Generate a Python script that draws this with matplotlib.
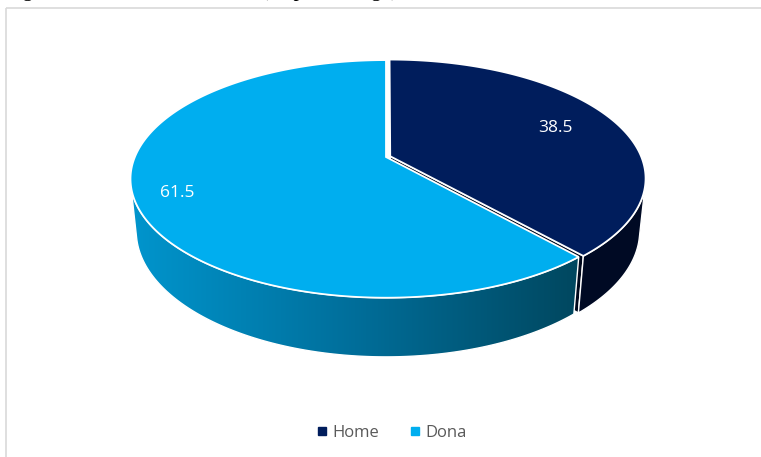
import numpy as np
import matplotlib
matplotlib.use("Agg")
import matplotlib.pyplot as plt
from matplotlib.patches import Polygon, Rectangle
from matplotlib.colors import LinearSegmentedColormap
from matplotlib.lines import Line2D

# --- data
labels = ["Home", "Dona"]
values = [38.5, 61.5]
top_colors = ["#001D5C", "#00AEEF"]
side_colors = ["#000A24", None]          # Dona side gets a gradient
label_radius = [0.74, 0.84]
explode = [0.018, 0.0]
caption = "Figura 1. Distribució del sexe (en percentatge)"

# --- 3D pie geometry (pixel space)
W, H = 761, 457
CX, CY = 386, 157
F = 1212.0
DIST = 4.826
ELEV = np.deg2rad(27.2)
S, C = np.sin(ELEV), np.cos(ELEV)
THICK = 0.236


def project(x, y, z):
    vy = y + DIST * C
    vz = z - DIST * S
    depth = vy * C - vz * S
    up = vy * S + vz * C
    return CX + F * x / depth, CY - F * up / depth


def arc(phi0, phi1, z, off, n=200):
    phi = np.linspace(phi0, phi1, n)
    px, py = project(np.cos(phi) + off[0], np.sin(phi) + off[1], np.full_like(phi, z))
    return np.column_stack([px, py])


fig = plt.figure(figsize=(W / 100, H / 100), dpi=100)
ax = fig.add_axes([0, 0, 1, 1])
ax.set_xlim(0, W)
ax.set_ylim(H, 0)
ax.axis("off")

# chart frame
ax.add_patch(Rectangle((6, 8), W, H, facecolor="none", edgecolor="#D9D9D9", lw=1.2))

# slice angles: start at 12 o'clock, clockwise
fracs = np.array(values) / sum(values)
starts = np.deg2rad(90) - 2 * np.pi * np.concatenate([[0], np.cumsum(fracs)[:-1]])
ends = starts - 2 * np.pi * fracs
mids = (starts + ends) / 2
offs = [(e * np.cos(m), e * np.sin(m)) for e, m in zip(explode, mids)]

# visible side band (outward normal facing the camera)
vis_lo = np.pi + np.arcsin(1 / (DIST * C))
vis_hi = 2 * np.pi - np.arcsin(1 / (DIST * C))

grad = LinearSegmentedColormap.from_list("side", ["#0095CD", "#006E9A", "#00475F"])


def side_poly(i):
    a0, a1 = ends[i] % (2 * np.pi), starts[i] % (2 * np.pi)
    if a1 <= a0:
        a1 += 2 * np.pi
    lo, hi = max(a0, vis_lo), min(a1, vis_hi)
    if hi <= lo:
        return None
    top = arc(lo, hi, 0, offs[i])
    bot = arc(hi, lo, -THICK, offs[i])
    return np.vstack([top, bot])


def top_poly(i):
    cx, cy = project(offs[i][0], offs[i][1], 0)
    return np.vstack([[cx, cy], arc(starts[i], ends[i], 0, offs[i])])


# Home cut face, seen through the gap
o = offs[0]
e = ends[0]
p1 = project(o[0], o[1], 0)
p2 = project(np.cos(e) + o[0], np.sin(e) + o[1], 0)
p3 = project(np.cos(e) + o[0], np.sin(e) + o[1], -THICK)
p4 = project(o[0], o[1], -THICK)
ax.add_patch(Polygon([p1, p2, p3, p4], facecolor="#00081C", edgecolor="white", lw=1.0))

# Dona: side with gradient, then top
sp = side_poly(1)
patch = Polygon(sp, facecolor="none", edgecolor="none")
ax.add_patch(patch)
x0, x1 = sp[:, 0].min(), sp[:, 0].max()
y0, y1 = sp[:, 1].min(), sp[:, 1].max()
img = ax.imshow(np.linspace(0, 1, 256)[None, :], cmap=grad, aspect="auto",
                extent=[x0, x1, y1, y0], interpolation="bicubic", zorder=1)
img.set_clip_path(patch)
ax.add_patch(Polygon(sp, facecolor="none", edgecolor="white", lw=1.0, zorder=2))
ax.add_patch(Polygon(top_poly(1), facecolor=top_colors[1], edgecolor="white", lw=1.3, zorder=3))

# Home: side then top
sp0 = side_poly(0)
ax.add_patch(Polygon(sp0, facecolor=side_colors[0], edgecolor="white", lw=1.0, zorder=4))
ax.add_patch(Polygon(top_poly(0), facecolor=top_colors[0], edgecolor="white", lw=1.3, zorder=5))

# data labels
for i, v in enumerate(values):
    r = label_radius[i]
    lx, ly = project(r * np.cos(mids[i]) + offs[i][0], r * np.sin(mids[i]) + offs[i][1], 0)
    ax.text(lx, ly, f"{v:.1f}", color="white", fontsize=12.5, family="Open Sans",
            ha="center", va="center", zorder=6)

# legend
handles = [Line2D([], [], marker="s", linestyle="none", markersize=6,
                  markerfacecolor=c, markeredgecolor=c) for c in top_colors]
leg = fig.legend(handles, labels, loc="center", bbox_to_anchor=(391 / W, 1 - 433 / H),
                 ncol=2, frameon=False, handletextpad=0.2, columnspacing=1.75,
                 handlelength=0.8, prop={"family": "Open Sans", "size": 12})
for t in leg.get_texts():
    t.set_color("#595959")

# caption line running off the top edge
fig.text(5 / W, 1 + 4 / H, caption, family="Liberation Serif", fontsize=15.2,
         ha="left", va="baseline", color="black")

fig.savefig("out.png", dpi=100)
